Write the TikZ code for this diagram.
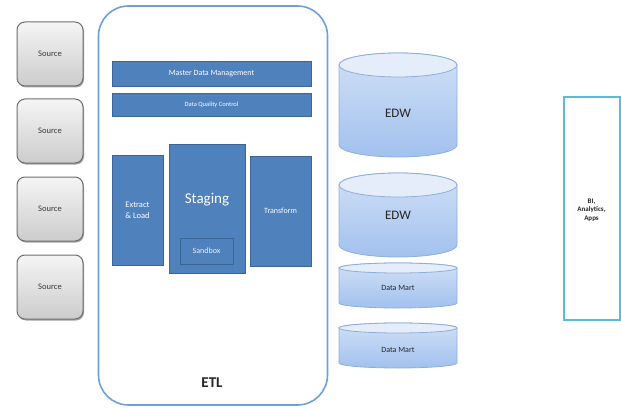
\documentclass[tikz,border=0pt]{standalone}
\usepackage{fontspec}
\setmainfont{Carlito}
\usetikzlibrary{shadows}
\definecolor{etlblue}{HTML}{6F9FD8}
\definecolor{boxblue}{HTML}{4F81BD}
\definecolor{boxedge}{HTML}{3A6595}
\definecolor{cyltop}{HTML}{E4EDF9}
\definecolor{cylmid}{HTML}{D0E0F6}
\definecolor{cylbot}{HTML}{A2C1EE}
\definecolor{cyledge}{HTML}{8EAEDA}
\definecolor{bicyan}{HTML}{5FBAD6}
\definecolor{srcedge}{HTML}{6E6E6E}
\definecolor{srctext}{HTML}{3A3A3A}

% database drum: cx, y of top, y of bottom, half width, ellipse half height
\newcommand\dbdrum[5]{%
  \pgfmathsetmacro\cyA{#2+#5}%
  \pgfmathsetmacro\cyB{#3-#5}%
  \path[cylbody] (#1-#4,\cyA) -- (#1-#4,\cyB)
    arc[start angle=180,end angle=360,x radius=#4pt,y radius=#5pt]
    -- (#1+#4,\cyA)
    arc[start angle=0,end angle=180,x radius=#4pt,y radius=#5pt] -- cycle;
  \path[cyltopface] (#1,\cyA) ellipse[x radius=#4pt,y radius=#5pt];
}

\begin{document}
\begin{tikzpicture}[x=1pt,y=-1pt,
  source/.style={draw=srcedge, line width=1pt, rounded corners=8pt,
    top color=gray!8, bottom color=gray!40, text=srctext,
    minimum width=66pt, minimum height=64pt,
    font=\fontsize{8.5}{10}\selectfont,
    drop shadow={shadow xshift=1pt, shadow yshift=-1.5pt, fill=gray!80, opacity=0.9}},
  bluebox/.style={draw=boxedge, line width=0.8pt, fill=boxblue, text=white,
    inner sep=1pt, align=center},
  cylbody/.style={draw=cyledge, line width=0.8pt, top color=cylmid, bottom color=cylbot},
  cyltopface/.style={draw=cyledge, line width=0.8pt, fill=cyltop},
  cyllabel/.style={text=black!85},
]
\useasboundingbox (0,0) rectangle (621,409);

% sources
\node[source] (s1) at (50,54) {Source};
\node[source] (s2) at (50,131) {Source};
\node[source] (s3) at (50,209) {Source};
\node[source] (s4) at (50,287) {Source};

% ETL container
\node[draw=etlblue, line width=1.6pt, fill=white, rounded corners=30pt,
  minimum width=229pt, minimum height=399pt] (etl) at (213,205.5) {};
\node[text=black!85, font=\bfseries\fontsize{15}{15}\selectfont] (etllabel) at (212,383) {ETL};

\node[bluebox, minimum width=199pt, minimum height=25pt,
  font=\fontsize{8}{9}\selectfont] (mdm) at (211.5,73.5) {Master Data Management};
\node[bluebox, minimum width=199pt, minimum height=23pt,
  font=\fontsize{6.5}{7}\selectfont] (dqc) at (211.5,104.5) {Data Quality Control};

\node[bluebox, minimum width=51pt, minimum height=110pt,
  font=\fontsize{8.5}{11}\selectfont] (extract) at (137.5,210) {Extract\\\& Load};
\node[bluebox, minimum width=76pt, minimum height=129pt] (staging) at (207,208.5) {};
\node[text=white, font=\fontsize{15}{15}\selectfont] (staginglabel) at (207,200) {Staging};
\node[draw=boxedge, line width=1pt, fill=boxblue, text=white!88!boxblue,
  minimum width=53pt, minimum height=26pt,
  font=\fontsize{8}{9}\selectfont] (sandbox) at (206.5,251) {Sandbox};
\node[bluebox, minimum width=61pt, minimum height=110pt,
  font=\fontsize{8}{9}\selectfont] (transform) at (280.5,211) {Transform};

% warehouses and marts
\dbdrum{398}{53}{157}{59}{12}
\node[cyllabel, font=\fontsize{13}{13}\selectfont] (edw1) at (398,113) {EDW};
\dbdrum{398}{173}{257}{59}{12}
\node[cyllabel, font=\fontsize{13}{13}\selectfont] (edw2) at (398,215) {EDW};
\dbdrum{398}{263}{308}{59}{5}
\node[cyllabel, font=\fontsize{8}{9}\selectfont] (dm1) at (398,288) {Data Mart};
\dbdrum{398}{323}{368}{59}{5}
\node[cyllabel, font=\fontsize{8}{9}\selectfont] (dm2) at (398,350) {Data Mart};

% consumers
\node[draw=bicyan, line width=2pt, minimum width=56pt, minimum height=222pt] (bi) at (591.5,208.5) {};
\node[align=center, font=\bfseries\fontsize{7}{8.5}\selectfont, text=black!85] (bilabel) at (591.5,210) {BI,\\Analytics,\\Apps};
\end{tikzpicture}
\end{document}
